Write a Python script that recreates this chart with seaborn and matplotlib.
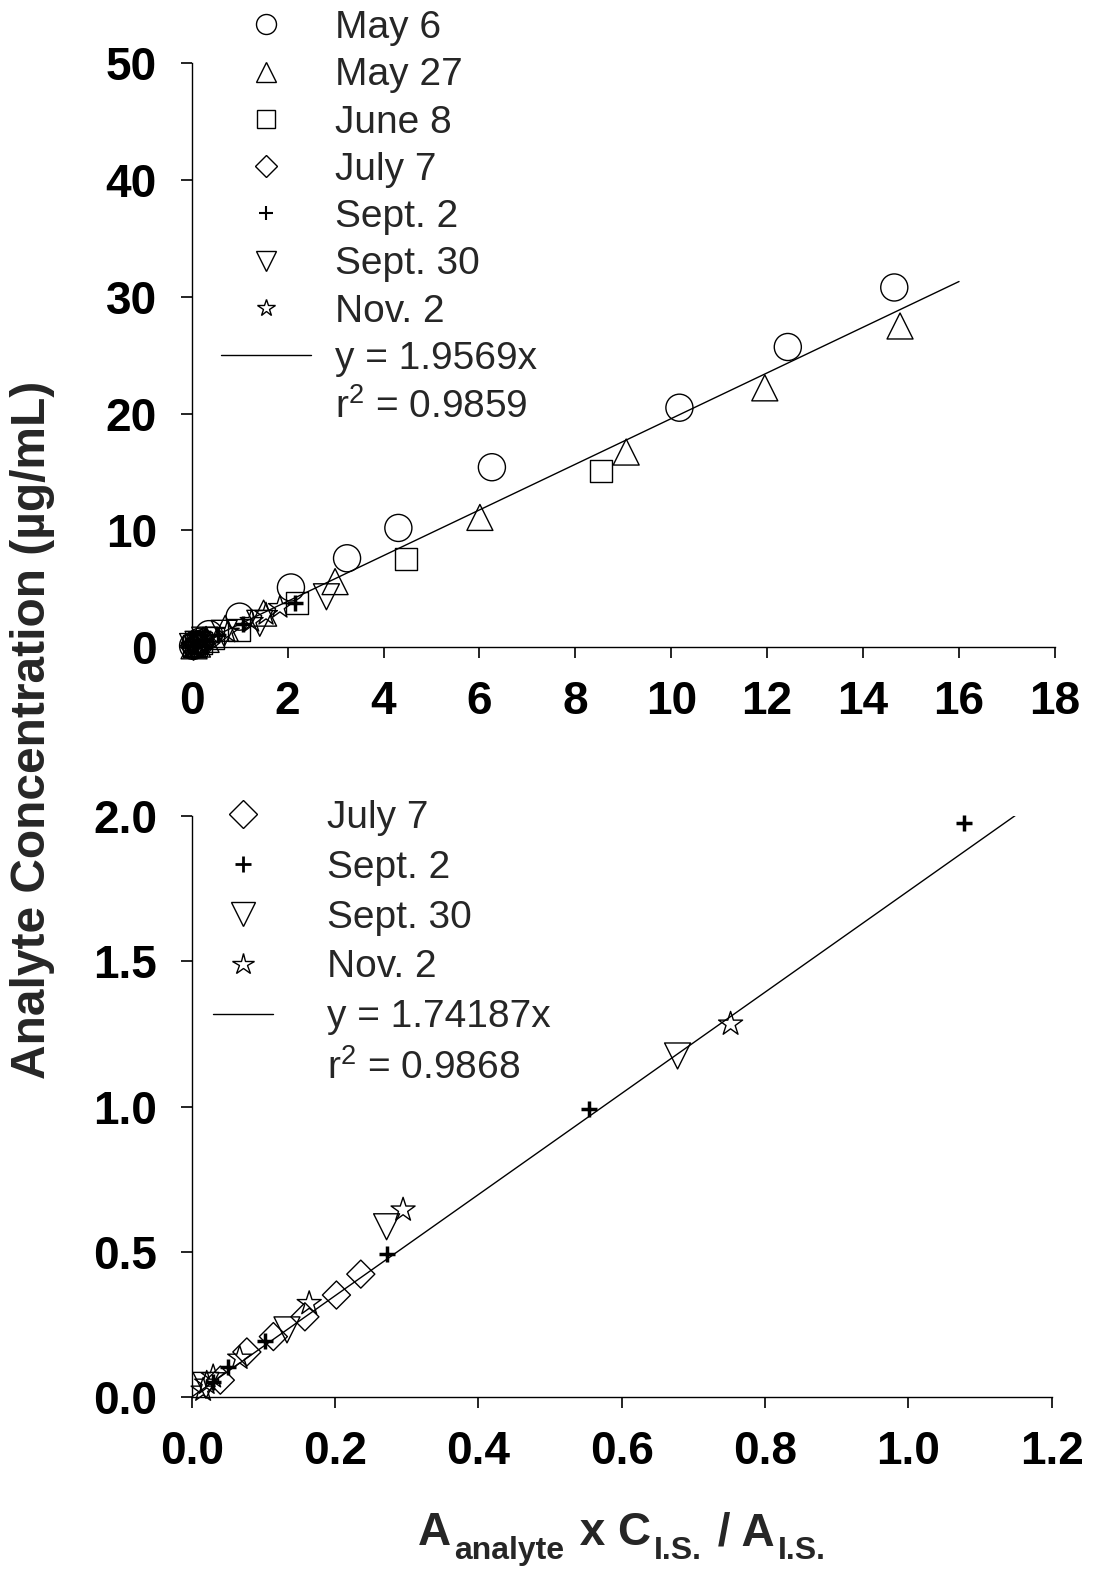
import matplotlib
matplotlib.use("Agg")
import matplotlib.pyplot as plt
from matplotlib.lines import Line2D
import seaborn as sns
import numpy as np

# ---------------- data (top panel) ----------------
may6_x = [0.03, 0.08, 0.17, 0.36, 1.00, 2.07, 3.24, 4.31, 6.26, 10.17, 12.43, 14.65]
may6_y = [0.10, 0.22, 0.45, 1.10, 2.60, 5.10, 7.60, 10.20, 15.40, 20.50, 25.70, 30.80]
may27_x = [0.05, 0.12, 0.30, 0.70, 1.50, 2.99, 6.01, 9.06, 11.95, 14.77]
may27_y = [0.10, 0.25, 0.65, 1.60, 2.90, 5.60, 11.10, 16.70, 22.20, 27.50]
june8_x = [0.04, 0.09, 0.20, 0.45, 0.98, 2.20, 4.46, 8.54]
june8_y = [0.06, 0.14, 0.35, 0.80, 1.45, 3.75, 7.50, 15.10]
july7_top_x = [0.040, 0.077, 0.114, 0.158, 0.202, 0.236]
july7_top_y = [0.058, 0.155, 0.208, 0.276, 0.351, 0.423]
sep2_top_x = [0.030, 0.051, 0.102, 0.272, 0.555, 1.077, 2.15]
sep2_top_y = [0.050, 0.104, 0.194, 0.492, 0.991, 1.976, 3.80]
sep30_top_x = [0.020, 0.133, 0.272, 0.678, 1.42, 2.81]
sep30_top_y = [0.040, 0.231, 0.586, 1.174, 2.03, 4.30]
nov2_top_x = [0.016, 0.030, 0.067, 0.164, 0.295, 0.752, 1.25, 1.55, 1.84]
nov2_top_y = [0.024, 0.070, 0.134, 0.322, 0.644, 1.284, 2.20, 2.80, 3.40]
top_slope = 1.9569
top_fit_x = [0.0, 16.0]

# ---------------- data (bottom panel) ----------------
july7_x = [0.040, 0.077, 0.114, 0.158, 0.202, 0.236]
july7_y = [0.058, 0.155, 0.208, 0.276, 0.351, 0.423]
sep2_x = [0.030, 0.051, 0.102, 0.272, 0.555, 1.077]
sep2_y = [0.050, 0.104, 0.194, 0.492, 0.991, 1.976]
sep30_x = [0.020, 0.133, 0.272, 0.678]
sep30_y = [0.040, 0.231, 0.586, 1.174]
nov2_x = [0.016, 0.021, 0.030, 0.067, 0.164, 0.295, 0.752]
nov2_y = [0.024, 0.048, 0.070, 0.134, 0.322, 0.644, 1.284]
bot_slope = 1.74187
bot_fit_x = [0.0, 1.15]

top_xticks = [0, 2, 4, 6, 8, 10, 12, 14, 16, 18]
top_yticks = [0, 10, 20, 30, 40, 50]
bot_xticks = [0.0, 0.2, 0.4, 0.6, 0.8, 1.0, 1.2]
bot_yticks = [0.0, 0.5, 1.0, 1.5, 2.0]

top_labels = ["May 6", "May 27", "June 8", "July 7", "Sept. 2", "Sept. 30", "Nov. 2",
              "y = 1.9569x", "r$^2$ = 0.9859"]
bot_labels = ["July 7", "Sept. 2", "Sept. 30", "Nov. 2", "y = 1.74187x", "r$^2$ = 0.9868"]

# x-axis label pieces: (text, is_subscript)
xlabel_parts = [("A", False), ("analyte", True), (" x C", False),
                ("I.S.", True), (" / A", False), ("I.S.", True)]

# ---------------- style ----------------
sns.set_style("ticks")
plt.rcParams["font.family"] = ["Liberation Sans", "DejaVu Sans"]
plt.rcParams["mathtext.fontset"] = "custom"
plt.rcParams["mathtext.rm"] = "Liberation Sans"
plt.rcParams["mathtext.it"] = "Liberation Sans:italic"
plt.rcParams["mathtext.bf"] = "Liberation Sans:bold"
plt.rcParams["axes.linewidth"] = 1.0

W, H = 1094, 1574
fig = plt.figure(figsize=(10.94, 15.74), dpi=100)
ax1 = fig.add_axes([0.1752, 0.58895, 0.7891, 0.3708])
ax2 = fig.add_axes([0.1752, 0.11245, 0.7861, 0.3691])


def pts(ax, x, y, marker, s, lw=1.0):
    if marker == "+":
        sns.scatterplot(x=x, y=y, marker=marker, s=s, color="black",
                        linewidth=lw, ax=ax, clip_on=False, zorder=3)
    else:
        sns.scatterplot(x=x, y=y, marker=marker, s=s, facecolor="none",
                        edgecolor="black", linewidth=lw, ax=ax, clip_on=False, zorder=3)


# top panel
pts(ax1, may6_x, may6_y, "o", 380)
pts(ax1, may27_x, may27_y, "^", 350)
pts(ax1, june8_x, june8_y, "s", 250)
pts(ax1, july7_top_x, july7_top_y, "D", 200)
pts(ax1, sep2_top_x, sep2_top_y, "+", 132, lw=2.5)
pts(ax1, sep30_top_x, sep30_top_y, "v", 350)
pts(ax1, nov2_top_x, nov2_top_y, "*", 300)
sns.lineplot(x=top_fit_x, y=[top_slope * v for v in top_fit_x], color="black",
             linewidth=1.0, ax=ax1, zorder=2)

# bottom panel
pts(ax2, july7_x, july7_y, "D", 204)
pts(ax2, sep2_x, sep2_y, "+", 132, lw=2.5)
pts(ax2, sep30_x, sep30_y, "v", 350)
pts(ax2, nov2_x, nov2_y, "*", 330)
sns.lineplot(x=bot_fit_x, y=[bot_slope * v for v in bot_fit_x], color="black",
             linewidth=1.0, ax=ax2, zorder=2)

for ax, xt, yt, xl, yl, fmt in [
    (ax1, top_xticks, top_yticks, (0, 18), (0, 50), "{:d}"),
    (ax2, bot_xticks, bot_yticks, (0, 1.2), (0, 2.0), "{:.1f}"),
]:
    ax.set_xlim(*xl)
    ax.set_ylim(*yl)
    ax.set_xticks(xt)
    ax.set_yticks(yt)
    ax.set_xticklabels([fmt.format(v) for v in xt], fontsize=33, fontweight="bold")
    ax.set_yticklabels([fmt.format(v) for v in yt], fontsize=33, fontweight="bold")
    ax.tick_params(direction="out", length=8, width=1.2, colors="black")
    ax.tick_params(axis="x", pad=16)
    ax.tick_params(axis="y", pad=17)
    ax.set_xlabel("")
    ax.set_ylabel("")
    sns.despine(ax=ax)
    for sp in ax.spines.values():
        sp.set_color("black")

# legends
def mk(marker, ms, mew=1.0):
    if marker == "+":
        return Line2D([], [], marker="+", markersize=ms, color="black", mew=mew, linestyle="none")
    return Line2D([], [], marker=marker, markersize=ms, markerfacecolor="none",
                  markeredgecolor="black", mew=mew, linestyle="none")

line_h = Line2D([], [], color="black", lw=1.0)
blank_h = Line2D([], [], linestyle="none", marker=None)

top_handles = [mk("o", 14.4), mk("^", 14.4), mk("s", 13), mk("D", 11.2),
               mk("+", 10, 1.5), mk("v", 14.4), mk("*", 13), line_h, blank_h]
leg1 = ax1.legend(top_handles, top_labels, loc="upper left",
                  bbox_to_anchor=(221 / W, 1 - 10 / H), bbox_transform=fig.transFigure,
                  frameon=False, fontsize=28, borderpad=0, borderaxespad=0,
                  handlelength=2.31, handletextpad=0.62, labelspacing=0.29)

bot_handles = [mk("D", 14.3), mk("+", 11.5, 2.0), mk("v", 17), mk("*", 16), line_h, blank_h]
leg2 = ax2.legend(bot_handles, bot_labels, loc="upper left",
                  bbox_to_anchor=(213 / W, 1 - 800 / H), bbox_transform=fig.transFigure,
                  frameon=False, fontsize=28, borderpad=0, borderaxespad=0,
                  handlelength=1.54, handletextpad=1.38, labelspacing=0.355)

fig.text(33 / W, 1 - 730 / H, "Analyte Concentration (µg/mL)", rotation=90,
         fontsize=34.5, fontweight="bold", ha="center", va="center")

# x label built from pieces (main text + subscripts), laid out sequentially
renderer = fig.canvas.get_renderer()
base_px = 1545
sub_px = 1559
gap_px = 3
texts = []
widths = []
for txt, is_sub in xlabel_parts:
    t = fig.text(0, 1 - (sub_px if is_sub else base_px) / H, txt,
                 fontsize=23 if is_sub else 33, fontweight="bold",
                 ha="left", va="baseline")
    texts.append(t)
    widths.append(t.get_window_extent(renderer=renderer).width + gap_px)
total = sum(widths) - gap_px
x = 622 - total / 2
for t, w in zip(texts, widths):
    t.set_x(x / W)
    x += w

fig.savefig("out.png", dpi=100)
